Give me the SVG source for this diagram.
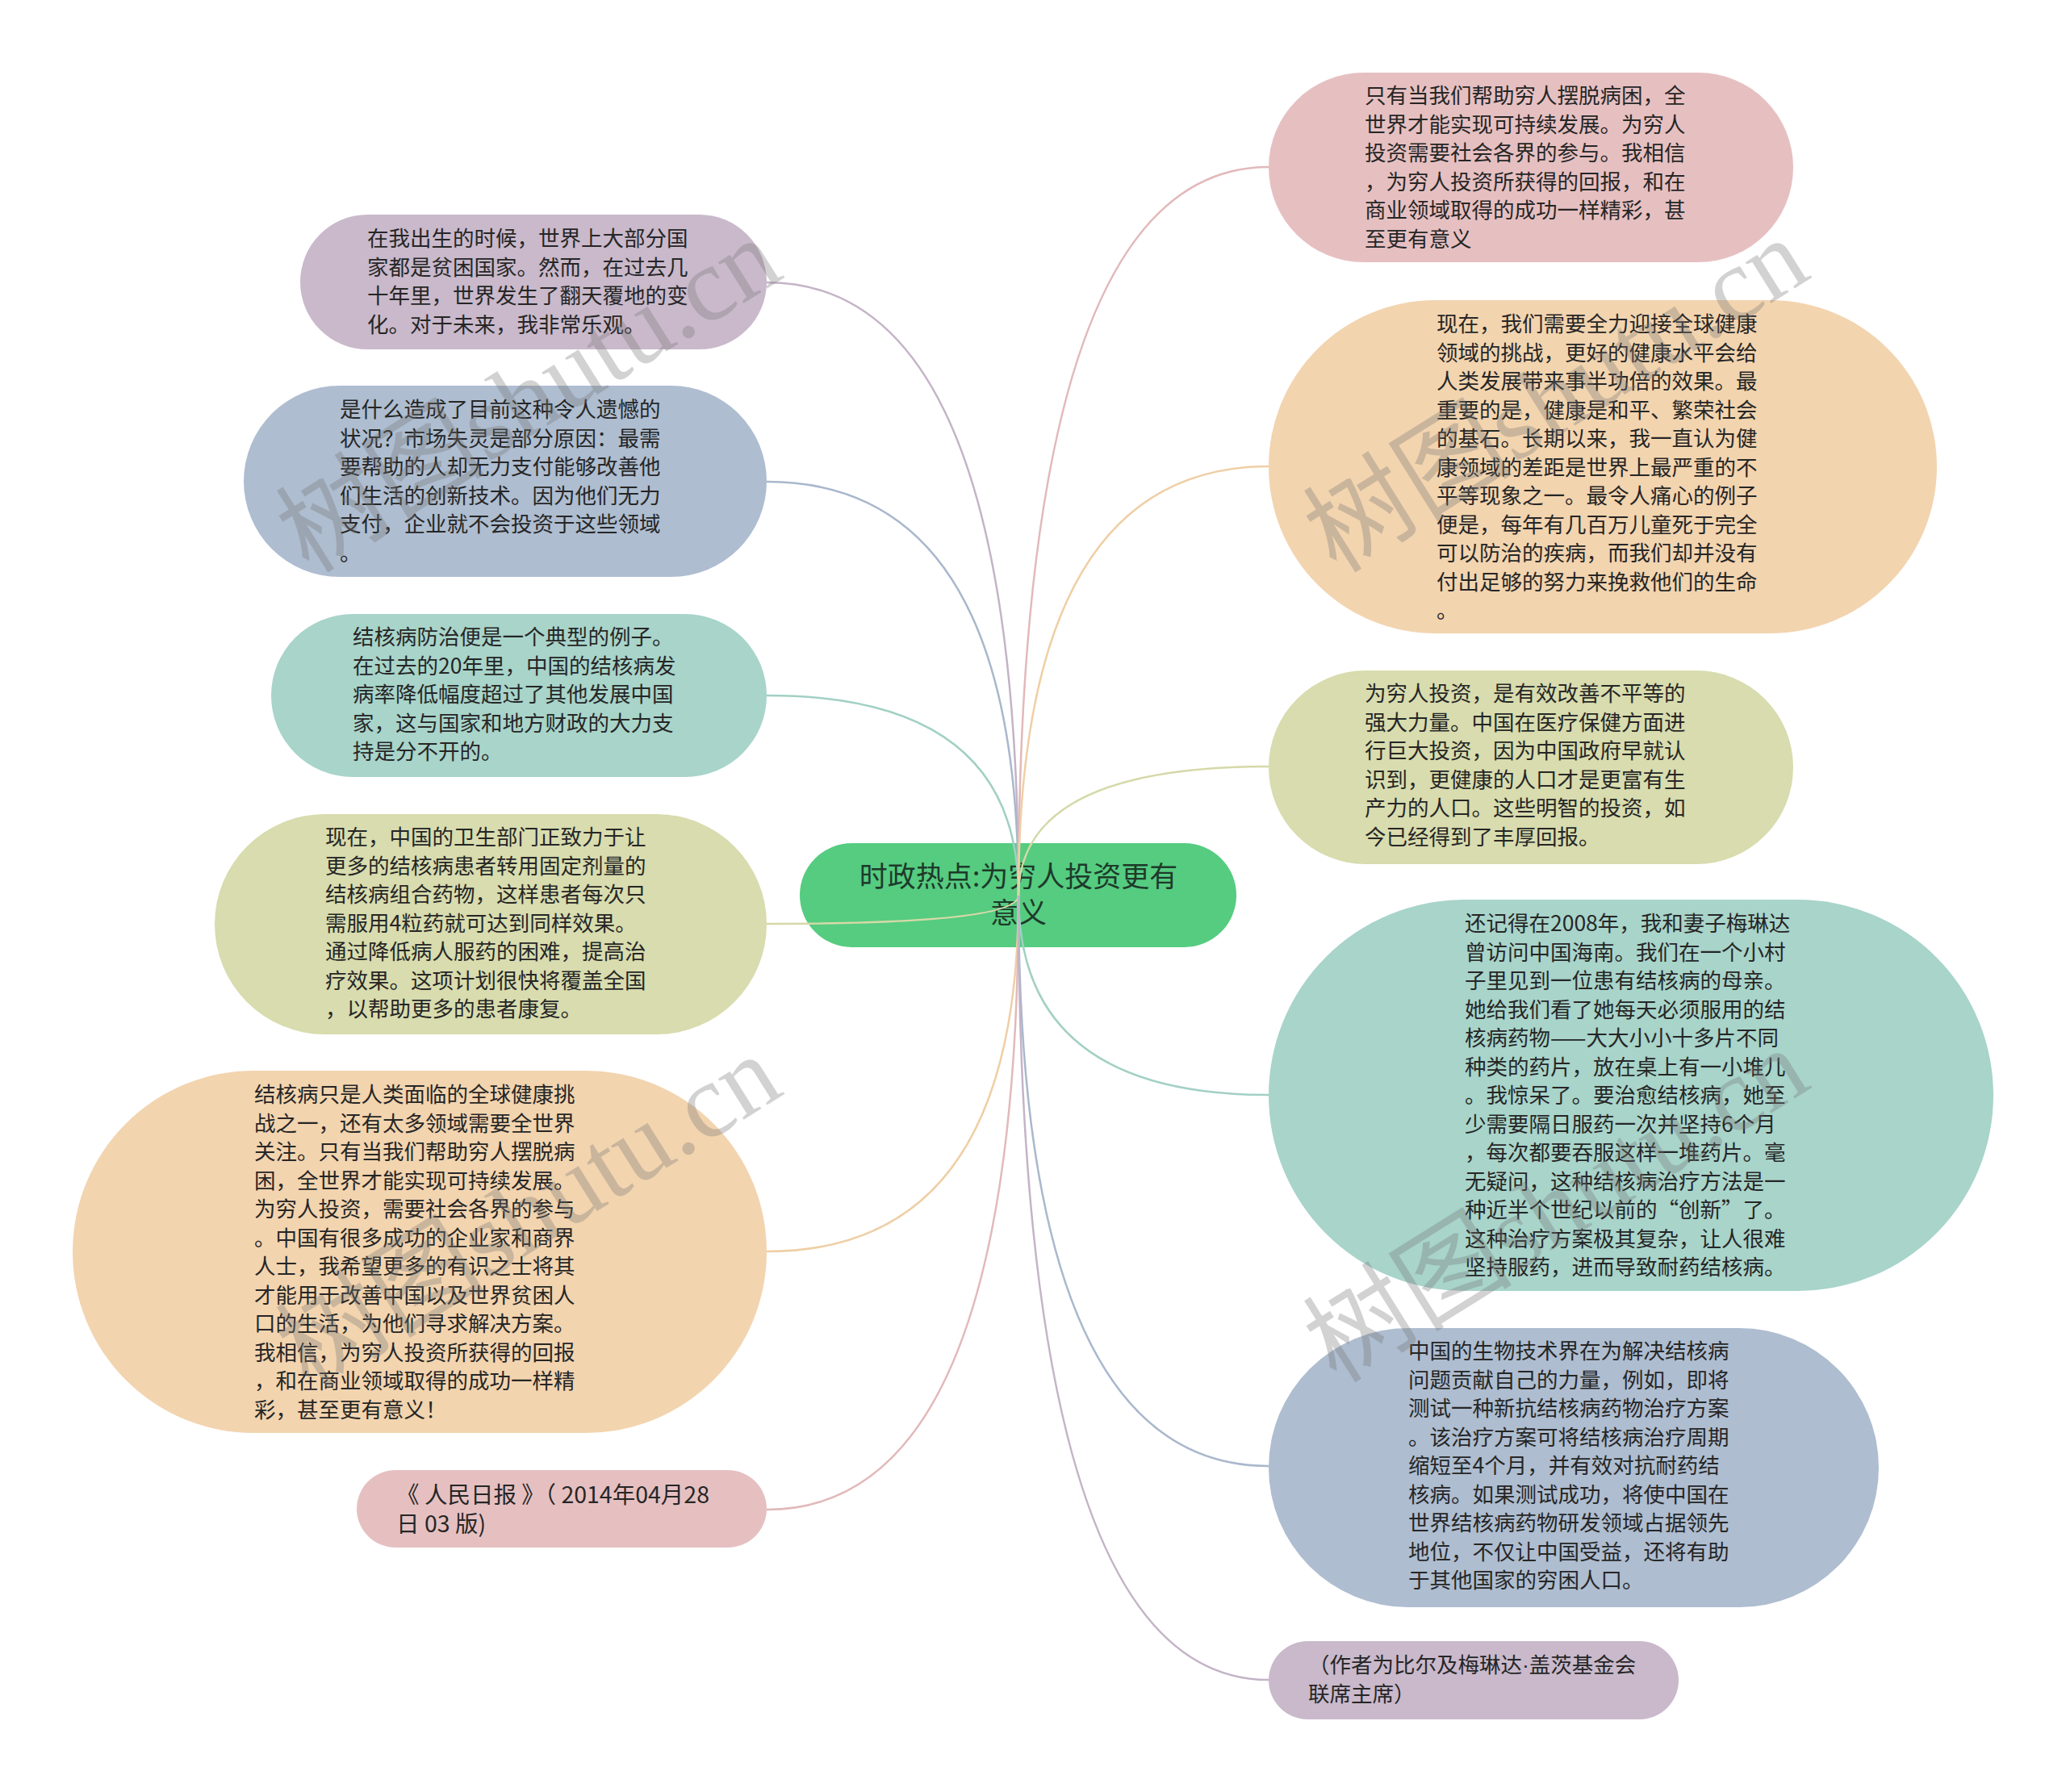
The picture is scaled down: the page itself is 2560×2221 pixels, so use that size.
<svg xmlns="http://www.w3.org/2000/svg" width="2560" height="2221" viewBox="0 0 2560 2221">
<style>
.t{font-family:"Noto Sans CJK SC","Liberation Sans",sans-serif;font-size:26.5px;fill:#262626}
.c{font-family:"Noto Sans CJK SC","Liberation Sans",sans-serif;font-size:35px;fill:#1e3a2a;text-anchor:middle}
.ln{fill:none;stroke-width:2.5}
.wm{font-family:"Liberation Serif","Noto Sans CJK SC",serif;font-size:130px;fill:#777;fill-opacity:0.33}
</style>
<rect width="2560" height="2221" fill="#ffffff"/>
<g id="center">
<rect x="991" y="1045" width="541" height="129" rx="64.5" fill="#55cc80"/>
<text class="c"><tspan x="1262" y="1099">时政热点:为穷人投资更有</tspan><tspan x="1262" y="1144">意义</tspan></text>
</g>
<g id="connectors">
<path class="ln" stroke="#c4b3c7" d="M1262 1110 Q1262 350 950 350"/>
<path class="ln" stroke="#a9b8cc" d="M1262 1110 Q1262 597 950 597"/>
<path class="ln" stroke="#a2d0c4" d="M1262 1110 Q1262 862 950 862"/>
<path class="ln" stroke="#d5d9a8" d="M1262 1110 Q1262 1145 950 1145"/>
<path class="ln" stroke="#efcfa6" d="M1262 1110 Q1262 1551 950 1551"/>
<path class="ln" stroke="#e2b9ba" d="M1262 1110 Q1262 1871 950 1871"/>
<path class="ln" stroke="#e2b9ba" d="M1262 1110 Q1262 207 1572 207"/>
<path class="ln" stroke="#efcfa6" d="M1262 1110 Q1262 578 1572 578"/>
<path class="ln" stroke="#d5d9a8" d="M1262 1110 Q1262 950 1572 950"/>
<path class="ln" stroke="#a2d0c4" d="M1262 1110 Q1262 1357 1572 1357"/>
<path class="ln" stroke="#a9b8cc" d="M1262 1110 Q1262 1817 1572 1817"/>
<path class="ln" stroke="#c4b3c7" d="M1262 1110 Q1262 2082 1572 2082"/>
</g>
<g id="n-l1">
<rect x="372" y="266" width="578" height="167" rx="83.5" fill="#c9b9cb"/>
<text class="t"><tspan x="455" y="305">在我出生的时候，世界上大部分国</tspan><tspan x="455" y="340.5">家都是贫困国家。然而，在过去几</tspan><tspan x="455" y="376">十年里，世界发生了翻天覆地的变</tspan><tspan x="455" y="411.5">化。对于未来，我非常乐观。</tspan></text>
</g>
<g id="n-l2">
<rect x="302" y="478" width="648" height="237" rx="118.5" fill="#aebdd0"/>
<text class="t"><tspan x="421" y="517">是什么造成了目前这种令人遗憾的</tspan><tspan x="421" y="552.5">状况？市场失灵是部分原因：最需</tspan><tspan x="421" y="588">要帮助的人却无力支付能够改善他</tspan><tspan x="421" y="623.5">们生活的创新技术。因为他们无力</tspan><tspan x="421" y="659">支付，企业就不会投资于这些领域</tspan><tspan x="421" y="694.5">。</tspan></text>
</g>
<g id="n-l3">
<rect x="336" y="761" width="614" height="202" rx="101" fill="#a8d4ca"/>
<text class="t"><tspan x="437" y="799">结核病防治便是一个典型的例子。</tspan><tspan x="437" y="834.5">在过去的20年里，中国的结核病发</tspan><tspan x="437" y="870">病率降低幅度超过了其他发展中国</tspan><tspan x="437" y="905.5">家，这与国家和地方财政的大力支</tspan><tspan x="437" y="941">持是分不开的。</tspan></text>
</g>
<g id="n-l4">
<rect x="266" y="1009" width="684" height="273" rx="136.5" fill="#d8dcae"/>
<text class="t"><tspan x="403" y="1047">现在，中国的卫生部门正致力于让</tspan><tspan x="403" y="1082.5">更多的结核病患者转用固定剂量的</tspan><tspan x="403" y="1118">结核病组合药物，这样患者每次只</tspan><tspan x="403" y="1153.5">需服用4粒药就可达到同样效果。</tspan><tspan x="403" y="1189">通过降低病人服药的困难，提高治</tspan><tspan x="403" y="1224.5">疗效果。这项计划很快将覆盖全国</tspan><tspan x="403" y="1260">，以帮助更多的患者康复。</tspan></text>
</g>
<g id="n-l5">
<rect x="90" y="1327" width="860" height="449" rx="224.5" fill="#f2d4af"/>
<text class="t"><tspan x="315" y="1366">结核病只是人类面临的全球健康挑</tspan><tspan x="315" y="1401.5">战之一，还有太多领域需要全世界</tspan><tspan x="315" y="1437">关注。只有当我们帮助穷人摆脱病</tspan><tspan x="315" y="1472.5">困，全世界才能实现可持续发展。</tspan><tspan x="315" y="1508">为穷人投资，需要社会各界的参与</tspan><tspan x="315" y="1543.5">。中国有很多成功的企业家和商界</tspan><tspan x="315" y="1579">人士，我希望更多的有识之士将其</tspan><tspan x="315" y="1614.5">才能用于改善中国以及世界贫困人</tspan><tspan x="315" y="1650">口的生活，为他们寻求解决方案。</tspan><tspan x="315" y="1685.5">我相信，为穷人投资所获得的回报</tspan><tspan x="315" y="1721">，和在商业领域取得的成功一样精</tspan><tspan x="315" y="1756.5">彩，甚至更有意义！</tspan></text>
</g>
<g id="n-l6">
<rect x="442" y="1822" width="508" height="96" rx="48" fill="#e6c0c1"/>
<text class="t" style="font-size:28.5px"><tspan x="491" y="1863">《 人民日报 》（ 2014年04月28</tspan><tspan x="491" y="1899">日 03 版)</tspan></text>
</g>
<g id="n-r1">
<rect x="1572" y="90" width="650" height="235" rx="117.5" fill="#e6c0c1"/>
<text class="t"><tspan x="1691" y="128">只有当我们帮助穷人摆脱病困，全</tspan><tspan x="1691" y="163.5">世界才能实现可持续发展。为穷人</tspan><tspan x="1691" y="199">投资需要社会各界的参与。我相信</tspan><tspan x="1691" y="234.5">，为穷人投资所获得的回报，和在</tspan><tspan x="1691" y="270">商业领域取得的成功一样精彩，甚</tspan><tspan x="1691" y="305.5">至更有意义</tspan></text>
</g>
<g id="n-r2">
<rect x="1572" y="372" width="828" height="413" rx="206.5" fill="#f2d4af"/>
<text class="t"><tspan x="1780" y="411">现在，我们需要全力迎接全球健康</tspan><tspan x="1780" y="446.5">领域的挑战，更好的健康水平会给</tspan><tspan x="1780" y="482">人类发展带来事半功倍的效果。最</tspan><tspan x="1780" y="517.5">重要的是，健康是和平、繁荣社会</tspan><tspan x="1780" y="553">的基石。长期以来，我一直认为健</tspan><tspan x="1780" y="588.5">康领域的差距是世界上最严重的不</tspan><tspan x="1780" y="624">平等现象之一。最令人痛心的例子</tspan><tspan x="1780" y="659.5">便是，每年有几百万儿童死于完全</tspan><tspan x="1780" y="695">可以防治的疾病，而我们却并没有</tspan><tspan x="1780" y="730.5">付出足够的努力来挽救他们的生命</tspan><tspan x="1780" y="766">。</tspan></text>
</g>
<g id="n-r3">
<rect x="1572" y="831" width="650" height="240" rx="120" fill="#d8dcae"/>
<text class="t"><tspan x="1691" y="869">为穷人投资，是有效改善不平等的</tspan><tspan x="1691" y="904.5">强大力量。中国在医疗保健方面进</tspan><tspan x="1691" y="940">行巨大投资，因为中国政府早就认</tspan><tspan x="1691" y="975.5">识到，更健康的人口才是更富有生</tspan><tspan x="1691" y="1011">产力的人口。这些明智的投资，如</tspan><tspan x="1691" y="1046.5">今已经得到了丰厚回报。</tspan></text>
</g>
<g id="n-r4">
<rect x="1572" y="1115" width="898" height="485" rx="242.5" fill="#a8d4ca"/>
<text class="t"><tspan x="1815" y="1154">还记得在2008年，我和妻子梅琳达</tspan><tspan x="1815" y="1189.5">曾访问中国海南。我们在一个小村</tspan><tspan x="1815" y="1225">子里见到一位患有结核病的母亲。</tspan><tspan x="1815" y="1260.5">她给我们看了她每天必须服用的结</tspan><tspan x="1815" y="1296">核病药物——大大小小十多片不同</tspan><tspan x="1815" y="1331.5">种类的药片，放在桌上有一小堆儿</tspan><tspan x="1815" y="1367">。我惊呆了。要治愈结核病，她至</tspan><tspan x="1815" y="1402.5">少需要隔日服药一次并坚持6个月</tspan><tspan x="1815" y="1438">，每次都要吞服这样一堆药片。毫</tspan><tspan x="1815" y="1473.5">无疑问，这种结核病治疗方法是一</tspan><tspan x="1815" y="1509">种近半个世纪以前的“创新”了。</tspan><tspan x="1815" y="1544.5">这种治疗方案极其复杂，让人很难</tspan><tspan x="1815" y="1580">坚持服药，进而导致耐药结核病。</tspan></text>
</g>
<g id="n-r5">
<rect x="1572" y="1646" width="756" height="346" rx="173" fill="#aebdd0"/>
<text class="t"><tspan x="1745" y="1684">中国的生物技术界在为解决结核病</tspan><tspan x="1745" y="1719.5">问题贡献自己的力量，例如，即将</tspan><tspan x="1745" y="1755">测试一种新抗结核病药物治疗方案</tspan><tspan x="1745" y="1790.5">。该治疗方案可将结核病治疗周期</tspan><tspan x="1745" y="1826">缩短至4个月，并有效对抗耐药结</tspan><tspan x="1745" y="1861.5">核病。如果测试成功，将使中国在</tspan><tspan x="1745" y="1897">世界结核病药物研发领域占据领先</tspan><tspan x="1745" y="1932.5">地位，不仅让中国受益，还将有助</tspan><tspan x="1745" y="1968">于其他国家的穷困人口。</tspan></text>
</g>
<g id="n-r6">
<rect x="1572" y="2034" width="508" height="97" rx="48.5" fill="#c9b9cb"/>
<text class="t"><tspan x="1621" y="2073">（作者为比尔及梅琳达<tspan style="font-family:'Liberation Sans',sans-serif">·</tspan>盖茨基金会</tspan><tspan x="1621" y="2109">联席主席）</tspan></text>
</g>
<g id="watermarks">
<text class="wm" transform="translate(383 712) rotate(-32)">树图shutu.cn</text>
<text class="wm" transform="translate(1656 712) rotate(-32)">树图shutu.cn</text>
<text class="wm" transform="translate(383 1724) rotate(-32)">树图shutu.cn</text>
<text class="wm" transform="translate(1656 1716) rotate(-32)">树图shutu.cn</text>
</g>
</svg>
